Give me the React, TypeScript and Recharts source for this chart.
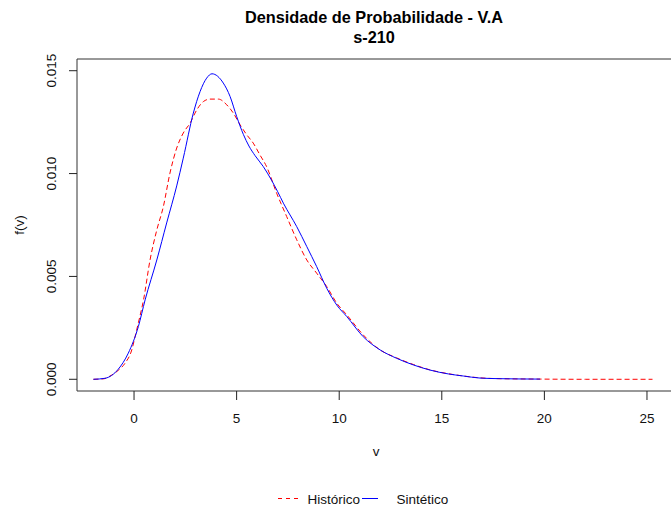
import React from 'react';
import { LineChart, Line, XAxis, YAxis, ReferenceArea } from 'recharts';

// ---- Data ----
const HIST_X = [-1.98, -1.5, -1.1, -0.75, -0.44, -0.11, 0.05, 0.2, 0.47, 0.78, 1.11, 1.43, 1.75, 2.08, 2.4, 2.73, 3.06, 3.38, 3.7, 4.11, 4.52, 4.84, 5.17, 5.49, 5.81, 6.14, 6.46, 6.95, 7.44, 7.93, 8.42, 8.9, 9.39, 9.88, 10.37, 11.17, 11.99, 12.8, 13.61, 14.42, 15.32, 16.05, 16.86, 17.84, 19.79, 22.0, 25.27];
const HIST_Y = [0, 0.00002, 0.0002, 0.00045, 0.00078, 0.00143, 0.00207, 0.0027, 0.0039, 0.0058, 0.00726, 0.0084, 0.01002, 0.01124, 0.01197, 0.01245, 0.0131, 0.0135, 0.01362, 0.01362, 0.01334, 0.01294, 0.01237, 0.01189, 0.01148, 0.0109, 0.01034, 0.00905, 0.00791, 0.00678, 0.0058, 0.00516, 0.00451, 0.0037, 0.00313, 0.00216, 0.00143, 0.00104, 0.00072, 0.00046, 0.00027, 0.00016, 0.00007, 0.00003, 0.00001, 0, 0];

const SINT_X = [-1.98, -1.41, -0.77, -0.28, 0.21, 0.54, 1.11, 1.59, 2.08, 2.4, 2.89, 3.22, 3.54, 3.8, 4.35, 4.68, 5.0, 5.33, 5.6, 5.9, 6.3, 6.7, 7.0, 7.28, 7.93, 8.42, 8.9, 9.39, 9.88, 10.37, 11.17, 11.99, 12.8, 13.61, 14.42, 15.32, 16.05, 16.86, 17.84, 19.79];
const SINT_Y = [0, 0.00005, 0.00049, 0.00127, 0.00256, 0.00386, 0.0058, 0.0076, 0.0094, 0.01075, 0.01294, 0.01399, 0.01464, 0.01485, 0.0144, 0.01375, 0.01278, 0.0119, 0.01134, 0.01087, 0.01034, 0.00968, 0.00912, 0.00856, 0.00742, 0.00645, 0.00548, 0.00443, 0.00361, 0.00305, 0.00207, 0.00143, 0.00102, 0.0007, 0.00045, 0.00026, 0.00016, 0.00006, 0.00003, 0.00001];

const X_TICKS = [0, 5, 10, 15, 20, 25];
const Y_TICKS = [0, 0.005, 0.01, 0.015];
const Y_TICK_LABELS = ['0.000', '0.005', '0.010', '0.015'];
const X_DOMAIN: [number, number] = [-2.78, 26.22];
const Y_DOMAIN: [number, number] = [-0.000569, 0.015569];

const TITLE_1 = 'Densidade de Probabilidade - V.A';
const TITLE_2 = 's-210';
const X_LABEL = 'v';
const Y_LABEL = 'f(v)';
const SERIES_NAMES = ['Histórico', 'Sintético'];

const histData = HIST_X.map((x, i) => ({ x, y: HIST_Y[i] }));
const sintData = SINT_X.map((x, i) => ({ x, y: SINT_Y[i] }));

const FONT = '"Liberation Sans", Arial, Helvetica, sans-serif';
const FS = 13.5;
const TXT = '#111';

const XTick = (props: any) => {
  const { x, y, payload } = props;
  return (
    <text x={x} y={y} dy="0.71em" textAnchor="middle" fontSize={FS} fontFamily={FONT} fill={TXT}>
      {payload.value}
    </text>
  );
};

const YTick = (props: any) => {
  const { x, y, payload } = props;
  const idx = Y_TICKS.indexOf(payload.value);
  const label = idx >= 0 ? Y_TICK_LABELS[idx] : String(payload.value);
  return (
    <text x={x} y={y} transform={`rotate(-90 ${x} ${y})`} textAnchor="middle" fontSize={FS} fontFamily={FONT} fill={TXT}>
      {label}
    </text>
  );
};

export default function App() {
  return (
    <div style={{ position: 'absolute', left: 0, top: 0, width: 671, height: 510, background: '#fff', overflow: 'hidden' }}>
      <LineChart width={671} height={510} margin={{ top: 59, right: -1, bottom: 0, left: 0 }}>
        <XAxis
          dataKey="x"
          type="number"
          domain={X_DOMAIN}
          ticks={X_TICKS}
          allowDataOverflow
          axisLine={false}
          tickLine={{ stroke: '#222' }}
          tickSize={9}
          tickMargin={13}
          height={119}
          tick={<XTick />}
        />
        <YAxis
          dataKey="y"
          type="number"
          domain={Y_DOMAIN}
          ticks={Y_TICKS}
          allowDataOverflow
          axisLine={false}
          tickLine={{ stroke: '#222' }}
          tickSize={8}
          tickMargin={12.5}
          width={77}
          tick={<YTick />}
        />
        <ReferenceArea
          x1={X_DOMAIN[0]}
          x2={X_DOMAIN[1]}
          y1={Y_DOMAIN[0]}
          y2={Y_DOMAIN[1]}
          fill="none"
          fillOpacity={0}
          stroke="#333"
          strokeWidth={1}
          ifOverflow="visible"
        />
        <Line
          data={histData}
          dataKey="y"
          type="monotone"
          stroke="#ff0000"
          strokeWidth={1}
          strokeDasharray="5 3"
          dot={false}
          activeDot={false}
          isAnimationActive={false}
          name={SERIES_NAMES[0]}
        />
        <Line
          data={sintData}
          dataKey="y"
          type="monotone"
          stroke="#0000ff"
          strokeWidth={1}
          dot={false}
          activeDot={false}
          isAnimationActive={false}
          name={SERIES_NAMES[1]}
        />
      </LineChart>
      <svg width={671} height={510} style={{ position: 'absolute', left: 0, top: 0, pointerEvents: 'none' }}>
        <text x={374} y={23} textAnchor="middle" fontSize={16.3} fontWeight="bold" fontFamily={FONT} fill="#000">{TITLE_1}</text>
        <text x={374} y={43} textAnchor="middle" fontSize={16.3} fontWeight="bold" fontFamily={FONT} fill="#000">{TITLE_2}</text>
        <text x={376} y={456} textAnchor="middle" fontSize={FS} fontFamily={FONT} fill={TXT}>{X_LABEL}</text>
        <text x={24} y={225} transform="rotate(-90 24 225)" textAnchor="middle" fontSize={FS} fontFamily={FONT} fill={TXT}>{Y_LABEL}</text>
        <line x1={278} x2={298} y1={498.5} y2={498.5} stroke="#ff0000" strokeWidth={1} strokeDasharray="4 4" />
        <text x={307.5} y={504} fontSize={FS} fontFamily={FONT} fill={TXT}>{SERIES_NAMES[0]}</text>
        <line x1={362} x2={378} y1={498.5} y2={498.5} stroke="#0000ff" strokeWidth={1} />
        <text x={396.5} y={504} fontSize={FS} fontFamily={FONT} fill={TXT}>{SERIES_NAMES[1]}</text>
      </svg>
    </div>
  );
}
